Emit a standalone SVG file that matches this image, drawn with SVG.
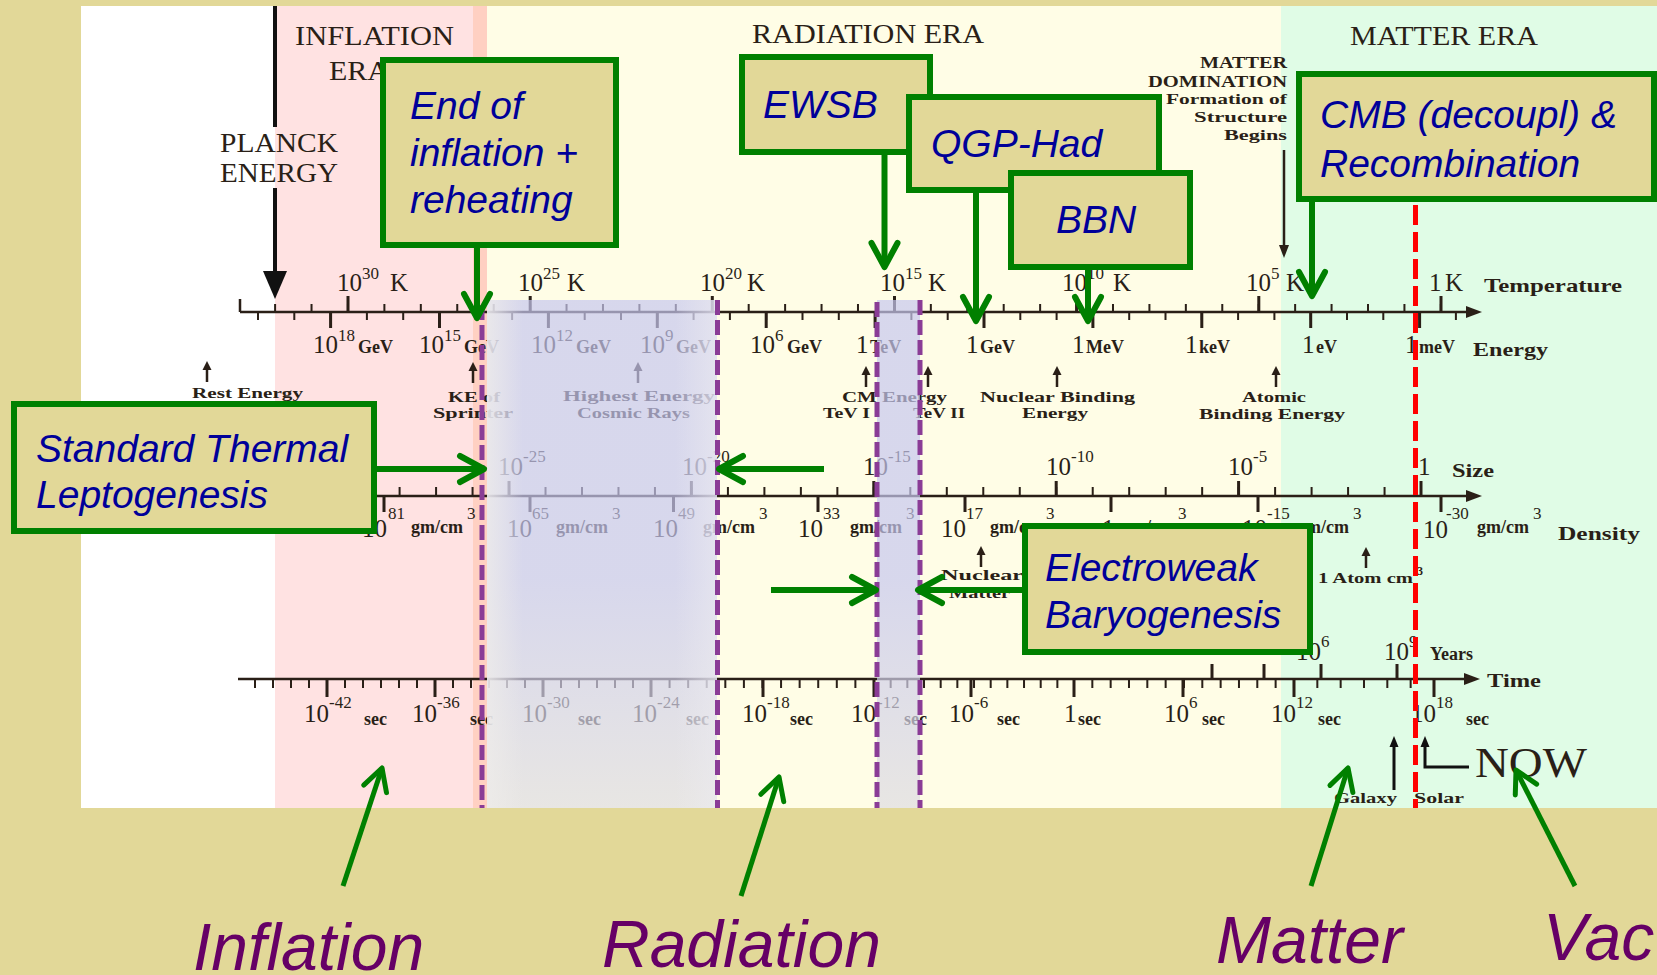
<svg xmlns="http://www.w3.org/2000/svg" width="1657" height="975" viewBox="0 0 1657 975">
<defs>
<style>
.sc{font-family:"Liberation Serif","Times New Roman",serif;fill:#2a1f17}
.m{font-size:25px}
.p{font-size:17px}
.u{font-size:18px;font-weight:bold}
.lb{font-size:19px;font-weight:bold}
.an{font-size:15px;font-weight:bold}
.era{font-size:27px}
.ax{stroke:#2a1f17;stroke-width:2.5;fill:none}
.mn{stroke:#2a1f17;fill:none}
.mj{stroke:#2a1f17;stroke-width:3;fill:none}
.ah{fill:#2a1f17}
.pd{stroke:#8A3C96;stroke-width:5;stroke-dasharray:15 5;fill:none}
.rd{stroke:#FF0000;stroke-width:5;stroke-dasharray:20 7;fill:none}
.bx{fill:#E2D898;stroke:#008000;stroke-width:6}
.bt{font-family:"Liberation Sans",Arial,sans-serif;font-style:italic;font-size:39px;fill:#000099}
.cn{stroke:#008000;stroke-width:6;fill:none;marker-end:url(#chev)}
.cn5{stroke:#008000;stroke-width:5;fill:none;marker-end:url(#chev5)}
.big{font-family:"Liberation Sans",Arial,sans-serif;font-style:italic;font-size:66px;fill:#660066}
</style>
<marker id="chev" markerUnits="userSpaceOnUse" viewBox="-30 -20 40 40" markerWidth="40" markerHeight="40" refX="0" refY="0" orient="auto" overflow="visible">
<path d="M-24,-13 L0,0 L-24,13" fill="none" stroke="#008000" stroke-width="6" stroke-linecap="round" stroke-linejoin="round"/>
</marker>
<marker id="chev5" markerUnits="userSpaceOnUse" viewBox="-30 -20 40 40" markerWidth="40" markerHeight="40" refX="0" refY="0" orient="auto" overflow="visible">
<path d="M-22,-12 L0,0 L-22,12" fill="none" stroke="#008000" stroke-width="5" stroke-linecap="round" stroke-linejoin="round"/>
</marker>
<g id="ua"><path d="M0 21V6" stroke="#2a1f17" stroke-width="2.5"/><path d="M-4.5 9L0 0L4.5 9Z" fill="#2a1f17"/></g>
<linearGradient id="lavV" x1="0" y1="0" x2="0" y2="1">
<stop offset="0" stop-color="#C6C7EF"/><stop offset="0.55" stop-color="#C6C7EF"/><stop offset="1" stop-color="#DEDCE2"/>
</linearGradient>
<linearGradient id="fadeL" x1="0" y1="0" x2="1" y2="0">
<stop offset="0" stop-color="#EEECEA" stop-opacity="0.8"/><stop offset="1" stop-color="#EEECEA" stop-opacity="0"/>
</linearGradient>
<linearGradient id="fadeR" x1="0" y1="0" x2="1" y2="0">
<stop offset="0" stop-color="#ECEBF0" stop-opacity="0"/><stop offset="1" stop-color="#ECEBF0" stop-opacity="0.6"/>
</linearGradient>
</defs>

<rect x="0" y="0" width="1657" height="975" fill="#E2D898"/>

<g id="chart">
<rect x="81" y="6" width="194" height="802" fill="#FFFFFF"/>
<rect x="275" y="6" width="198" height="802" fill="#FFE2E2"/>
<rect x="473" y="6" width="14" height="802" fill="#FFD0C2"/>
<rect x="487" y="6" width="794" height="802" fill="#FFFDE6"/>
<rect x="1281" y="6" width="376" height="802" fill="#E0FCE6"/>

<text class="sc era" x="295" y="45" textLength="159" lengthAdjust="spacingAndGlyphs">INFLATION</text>
<text class="sc era" x="329" y="80" textLength="60" lengthAdjust="spacingAndGlyphs">ERA</text>
<text class="sc era" x="752" y="43" textLength="232" lengthAdjust="spacingAndGlyphs">RADIATION ERA</text>
<text class="sc era" x="1350" y="45" textLength="188" lengthAdjust="spacingAndGlyphs">MATTER ERA</text>
<text class="sc era" x="220" y="152" textLength="118" lengthAdjust="spacingAndGlyphs">PLANCK</text>
<text class="sc era" x="220" y="182" textLength="118" lengthAdjust="spacingAndGlyphs">ENERGY</text>
<path d="M275 6V127M275 188V274" stroke="#111" stroke-width="4"/>
<path d="M263 271L287 271L275 299Z" fill="#111"/>

<text class="sc" style="font-size:16px;font-weight:bold" x="1200" y="68" textLength="87" lengthAdjust="spacingAndGlyphs">MATTER</text>
<text class="sc" style="font-size:16px;font-weight:bold" x="1148" y="87" textLength="139" lengthAdjust="spacingAndGlyphs">DOMINATION</text>
<text class="sc an" x="1166" y="104" textLength="121" lengthAdjust="spacingAndGlyphs">Formation of</text>
<text class="sc an" x="1194" y="122" textLength="93" lengthAdjust="spacingAndGlyphs">Structure</text>
<text class="sc an" x="1224" y="140" textLength="63" lengthAdjust="spacingAndGlyphs">Begins</text>
<path d="M1284 150V248" stroke="#2a1f17" stroke-width="2.5"/>
<path d="M1279 245L1289 245L1284 258Z" class="ah"/>

<path class="ax" d="M240 312H1470M240 299V312"/>
<path class="ah" d="M1466 306L1482 312L1466 318Z"/>
<line class="mn" x1="274.1" y1="308" x2="1442" y2="308" stroke-width="8" stroke-dasharray="2 34.43"/>
<path class="mj" d="M348 296V312M530.2 296V312M712.3 296V312M894.5 296V312M1076.6 296V312M1258.8 296V312M1441 296V312"/>
<line class="mn" x1="257" y1="316" x2="1458" y2="316" stroke-width="8" stroke-dasharray="2 34.3"/>
<path class="mj" d="M330.6 312V328M439.5 312V328M548.4 312V328M657.3 312V328M766.2 312V328M875.1 312V328M984 312V328M1092.9 312V328M1201.8 312V328M1310.7 312V328M1419.6 312V328"/>

<text class="sc m" y="291"><tspan x="337">10</tspan><tspan class="p" x="362" y="279">30</tspan><tspan x="390" y="291">K</tspan></text>
<text class="sc m" y="291"><tspan x="518">10</tspan><tspan class="p" x="543" y="279">25</tspan><tspan x="567" y="291">K</tspan></text>
<text class="sc m" y="291"><tspan x="700">10</tspan><tspan class="p" x="725" y="279">20</tspan><tspan x="747" y="291">K</tspan></text>
<text class="sc m" y="291"><tspan x="880">10</tspan><tspan class="p" x="905" y="279">15</tspan><tspan x="928" y="291">K</tspan></text>
<text class="sc m" y="291"><tspan x="1062">10</tspan><tspan class="p" x="1087" y="279">10</tspan><tspan x="1113" y="291">K</tspan></text>
<text class="sc m" y="291"><tspan x="1246">10</tspan><tspan class="p" x="1271" y="279">5</tspan><tspan x="1286" y="291">K</tspan></text>
<text class="sc m" y="291"><tspan x="1429">1</tspan><tspan x="1445">K</tspan></text>
<text class="sc lb" x="1484" y="292" textLength="138" lengthAdjust="spacingAndGlyphs">Temperature</text>

<text class="sc m" y="353"><tspan x="313">10</tspan><tspan class="p" x="338" y="341">18</tspan><tspan class="u" x="358" y="353">GeV</tspan></text>
<text class="sc m" y="353"><tspan x="419">10</tspan><tspan class="p" x="444" y="341">15</tspan><tspan class="u" x="464" y="353">GeV</tspan></text>
<text class="sc m" y="353"><tspan x="531">10</tspan><tspan class="p" x="556" y="341">12</tspan><tspan class="u" x="576" y="353">GeV</tspan></text>
<text class="sc m" y="353"><tspan x="640">10</tspan><tspan class="p" x="665" y="341">9</tspan><tspan class="u" x="676" y="353">GeV</tspan></text>
<text class="sc m" y="353"><tspan x="750">10</tspan><tspan class="p" x="775" y="341">6</tspan><tspan class="u" x="787" y="353">GeV</tspan></text>
<text class="sc m" y="353"><tspan x="856">1</tspan><tspan class="u" x="870">TeV</tspan></text>
<text class="sc m" y="353"><tspan x="966">1</tspan><tspan class="u" x="980">GeV</tspan></text>
<text class="sc m" y="353"><tspan x="1072">1</tspan><tspan class="u" x="1086">MeV</tspan></text>
<text class="sc m" y="353"><tspan x="1185">1</tspan><tspan class="u" x="1199">keV</tspan></text>
<text class="sc m" y="353"><tspan x="1302">1</tspan><tspan class="u" x="1316">eV</tspan></text>
<text class="sc m" y="353"><tspan x="1405">1</tspan><tspan class="u" x="1419">meV</tspan></text>
<text class="sc lb" x="1473" y="356" textLength="75" lengthAdjust="spacingAndGlyphs">Energy</text>

<use href="#ua" x="207" y="361"/>
<text class="sc an" x="192" y="398" textLength="111" lengthAdjust="spacingAndGlyphs">Rest Energy</text>
<use href="#ua" x="473" y="362"/>
<text class="sc an" x="448" y="402" textLength="52" lengthAdjust="spacingAndGlyphs">KE of</text>
<text class="sc an" x="433" y="418" textLength="80" lengthAdjust="spacingAndGlyphs">Sprinter</text>
<use href="#ua" x="638" y="362"/>
<text class="sc an" x="563" y="401" textLength="152" lengthAdjust="spacingAndGlyphs">Highest Energy</text>
<text class="sc an" x="577" y="418" textLength="113" lengthAdjust="spacingAndGlyphs">Cosmic Rays</text>
<use href="#ua" x="866" y="366"/>
<use href="#ua" x="928" y="366"/>
<text class="sc an" x="842" y="402" textLength="105" lengthAdjust="spacingAndGlyphs">CM Energy</text>
<text class="sc an" x="823" y="418" textLength="47" lengthAdjust="spacingAndGlyphs">TeV I</text>
<text class="sc an" x="913" y="418" textLength="52" lengthAdjust="spacingAndGlyphs">TeV II</text>
<use href="#ua" x="1057" y="366"/>
<text class="sc an" x="980" y="402" textLength="155" lengthAdjust="spacingAndGlyphs">Nuclear Binding</text>
<text class="sc an" x="1022" y="418" textLength="66" lengthAdjust="spacingAndGlyphs">Energy</text>
<use href="#ua" x="1276" y="366"/>
<text class="sc an" x="1242" y="402" textLength="64" lengthAdjust="spacingAndGlyphs">Atomic</text>
<text class="sc an" x="1199" y="419" textLength="146" lengthAdjust="spacingAndGlyphs">Binding Energy</text>

<path class="ax" d="M240 496H1470"/>
<path class="ah" d="M1466 490L1482 496L1466 502Z"/>
<line class="mn" x1="398.6" y1="491.5" x2="1422" y2="491.5" stroke-width="9" stroke-dasharray="2 34.48"/>
<path class="mj" d="M509 481V496M691.4 481V496M873.8 481V496M1056.2 481V496M1238.6 481V496M1421 481V496"/>
<path class="mj" d="M384 496V512M530 496V512M673.5 496V512M818 496V512M965 496V512M1111 496V512M1258 496V512M1441 496V512"/>

<text class="sc m" y="475"><tspan x="498">10</tspan><tspan class="p" x="523" y="462">-25</tspan></text>
<text class="sc m" y="475"><tspan x="682">10</tspan><tspan class="p" x="707" y="462">-20</tspan></text>
<text class="sc m" y="475"><tspan x="863">10</tspan><tspan class="p" x="888" y="462">-15</tspan></text>
<text class="sc m" y="475"><tspan x="1046">10</tspan><tspan class="p" x="1071" y="462">-10</tspan></text>
<text class="sc m" y="475"><tspan x="1228">10</tspan><tspan class="p" x="1253" y="462">-5</tspan></text>
<text class="sc m" x="1418" y="475">1</text>
<text class="sc lb" x="1452" y="477" textLength="42" lengthAdjust="spacingAndGlyphs">Size</text>

<text class="sc m" y="537"><tspan x="362">10</tspan><tspan class="p" x="388" y="519">81</tspan><tspan class="u" x="411" y="533">gm/cm</tspan><tspan class="p" x="467" y="519">3</tspan></text>
<text class="sc m" y="537"><tspan x="507">10</tspan><tspan class="p" x="532" y="519">65</tspan><tspan class="u" x="556" y="533">gm/cm</tspan><tspan class="p" x="612" y="519">3</tspan></text>
<text class="sc m" y="537"><tspan x="653">10</tspan><tspan class="p" x="678" y="519">49</tspan><tspan class="u" x="703" y="533">gm/cm</tspan><tspan class="p" x="759" y="519">3</tspan></text>
<text class="sc m" y="537"><tspan x="798">10</tspan><tspan class="p" x="823" y="519">33</tspan><tspan class="u" x="850" y="533">gm/cm</tspan><tspan class="p" x="906" y="519">3</tspan></text>
<text class="sc m" y="537"><tspan x="941">10</tspan><tspan class="p" x="966" y="519">17</tspan><tspan class="u" x="990" y="533">gm/cm</tspan><tspan class="p" x="1046" y="519">3</tspan></text>
<text class="sc m" y="537"><tspan x="1102">1</tspan><tspan class="u" x="1122" y="533">gm/cm</tspan><tspan class="p" x="1178" y="519">3</tspan></text>
<text class="sc m" y="537"><tspan x="1242">10</tspan><tspan class="p" x="1267" y="519">-15</tspan><tspan class="u" x="1297" y="533">gm/cm</tspan><tspan class="p" x="1353" y="519">3</tspan></text>
<text class="sc m" y="538"><tspan x="1423">10</tspan><tspan class="p" x="1446" y="519">-30</tspan><tspan class="u" x="1477" y="533">gm/cm</tspan><tspan class="p" x="1533" y="519">3</tspan></text>
<text class="sc lb" x="1558" y="540" textLength="82" lengthAdjust="spacingAndGlyphs">Density</text>

<use href="#ua" x="981" y="546"/>
<text class="sc an" x="941" y="580" textLength="82" lengthAdjust="spacingAndGlyphs">Nuclear</text>
<text class="sc an" x="949" y="598" textLength="61" lengthAdjust="spacingAndGlyphs">Matter</text>
<use href="#ua" x="1366" y="547"/>
<text class="sc an" y="583"><tspan x="1318" textLength="95" lengthAdjust="spacingAndGlyphs">1 Atom cm</tspan><tspan x="1413" y="575" style="font-size:12px">-3</tspan></text>

<path class="ax" d="M238 679H1470"/>
<path class="ah" d="M1464 673L1480 679L1464 685Z"/>
<line class="mn" x1="254" y1="683.5" x2="652" y2="683.5" stroke-width="9" stroke-dasharray="2 16"/>
<line class="mn" x1="650" y1="683.5" x2="875" y2="683.5" stroke-width="9" stroke-dasharray="2 16.58"/>
<line class="mn" x1="873" y1="683.5" x2="1075" y2="683.5" stroke-width="9" stroke-dasharray="2 14.67"/>
<line class="mn" x1="1073" y1="683.5" x2="1295" y2="683.5" stroke-width="9" stroke-dasharray="2 16.33"/>
<line class="mn" x1="1293" y1="683.5" x2="1435" y2="683.5" stroke-width="9" stroke-dasharray="2 21.33"/>
<path class="mj" d="M327 679V697M435 679V697M543 679V697M651 679V697M763 679V697M874 679V697M971 679V697M1074 679V697M1183 679V697M1294 679V697M1434 679V697"/>
<path class="mj" d="M1212 664V679M1264 664V679M1321 664V679M1397 664V679"/>

<text class="sc m" y="722"><tspan x="304">10</tspan><tspan class="p" x="329" y="708">-42</tspan><tspan class="u" x="364" y="725">sec</tspan></text>
<text class="sc m" y="722"><tspan x="412">10</tspan><tspan class="p" x="437" y="708">-36</tspan><tspan class="u" x="470" y="725">sec</tspan></text>
<text class="sc m" y="722"><tspan x="522">10</tspan><tspan class="p" x="547" y="708">-30</tspan><tspan class="u" x="578" y="725">sec</tspan></text>
<text class="sc m" y="722"><tspan x="632">10</tspan><tspan class="p" x="657" y="708">-24</tspan><tspan class="u" x="686" y="725">sec</tspan></text>
<text class="sc m" y="722"><tspan x="742">10</tspan><tspan class="p" x="767" y="708">-18</tspan><tspan class="u" x="790" y="725">sec</tspan></text>
<text class="sc m" y="722"><tspan x="851">10</tspan><tspan class="p" x="877" y="708">-12</tspan><tspan class="u" x="904" y="725">sec</tspan></text>
<text class="sc m" y="722"><tspan x="949">10</tspan><tspan class="p" x="974" y="708">-6</tspan><tspan class="u" x="997" y="725">sec</tspan></text>
<text class="sc m" y="722"><tspan x="1064">1</tspan><tspan class="u" x="1078" y="725">sec</tspan></text>
<text class="sc m" y="722"><tspan x="1164">10</tspan><tspan class="p" x="1189" y="708">6</tspan><tspan class="u" x="1202" y="725">sec</tspan></text>
<text class="sc m" y="722"><tspan x="1271">10</tspan><tspan class="p" x="1296" y="708">12</tspan><tspan class="u" x="1318" y="725">sec</tspan></text>
<text class="sc m" y="722"><tspan x="1411">10</tspan><tspan class="p" x="1436" y="708">18</tspan><tspan class="u" x="1466" y="725">sec</tspan></text>
<text class="sc lb" x="1487" y="687" textLength="54" lengthAdjust="spacingAndGlyphs">Time</text>
<text class="sc m" y="660"><tspan x="1296">10</tspan><tspan class="p" x="1321" y="647">6</tspan></text>
<text class="sc m" y="660"><tspan x="1384">10</tspan><tspan class="p" x="1409" y="647">9</tspan><tspan class="u" x="1430" y="660">Years</tspan></text>

<path d="M1394 790V745" stroke="#111" stroke-width="3"/>
<path d="M1389.5 747L1394 736L1398.5 747Z" fill="#111"/>
<path d="M1425 746V767H1469" stroke="#111" stroke-width="3" fill="none"/>
<path d="M1420.5 747L1425 736L1429.5 747Z" fill="#111"/>
<text class="sc" style="font-size:42px" x="1475" y="777" textLength="112" lengthAdjust="spacingAndGlyphs">NOW</text>
<text class="sc an" x="1334" y="803" textLength="63" lengthAdjust="spacingAndGlyphs">Galaxy</text>
<text class="sc an" x="1414" y="803" textLength="50" lengthAdjust="spacingAndGlyphs">Solar</text>

<rect x="487" y="300" width="230" height="508" fill="url(#lavV)" opacity="0.7"/>
<rect x="487" y="300" width="36" height="508" fill="url(#fadeL)"/>
<rect x="675" y="300" width="42" height="508" fill="url(#fadeR)"/>
<rect x="877" y="300" width="43" height="508" fill="url(#lavV)" opacity="0.7"/>

<path class="pd" d="M482 305V808M717.5 300V808M877 302V808M920 300V808"/>
<path class="rd" d="M1415.5 205V808"/>
</g>

<g id="node-end-inflation">
<rect class="bx" x="383" y="60" width="233" height="185"/>
<text class="bt"><tspan x="410" y="119">End of</tspan><tspan x="410" y="166">inflation +</tspan><tspan x="410" y="213">reheating</tspan></text>
</g>
<g id="node-ewsb">
<rect class="bx" x="742" y="57" width="188" height="95"/>
<text class="bt" x="763" y="118">EWSB</text>
</g>
<g id="node-qgp">
<rect class="bx" x="909" y="97" width="250" height="93"/>
<text class="bt" x="931" y="157">QGP-Had</text>
</g>
<g id="node-bbn">
<rect class="bx" x="1011" y="173" width="179" height="94"/>
<text class="bt" x="1056" y="233">BBN</text>
</g>
<g id="node-cmb">
<rect class="bx" x="1299" y="74" width="355" height="125"/>
<text class="bt"><tspan x="1320" y="128">CMB (decoupl) &amp;</tspan><tspan x="1320" y="177">Recombination</tspan></text>
</g>
<g id="node-leptogenesis">
<rect class="bx" x="14" y="404" width="360" height="127"/>
<text class="bt"><tspan x="36" y="462">Standard Thermal</tspan><tspan x="36" y="508">Leptogenesis</tspan></text>
</g>
<g id="node-ew-baryogenesis">
<rect class="bx" x="1025" y="526" width="285" height="126"/>
<text class="bt"><tspan x="1045" y="581">Electroweak</tspan><tspan x="1045" y="628">Baryogenesis</tspan></text>
</g>

<g id="node-inflation"><text class="big" x="193" y="970">Inflation</text></g>
<g id="node-radiation"><text class="big" x="602" y="967">Radiation</text></g>
<g id="node-matter"><text class="big" x="1216" y="963">Matter</text></g>
<g id="node-vac"><text class="big" x="1543" y="960">Vac</text></g>

<g id="connectors">
<path class="cn" d="M477 248V318"/>
<path class="cn" d="M884.5 155V267"/>
<path class="cn" d="M976 193V321"/>
<path class="cn" d="M1088 270V321"/>
<path class="cn" d="M1312 202V296"/>
<path class="cn" d="M377 469H484"/>
<path class="cn" d="M824 469H719"/>
<path class="cn" d="M1022 590H918"/>
<path class="cn" d="M771 590H876"/>
<path class="cn5" d="M343 886L382 768"/>
<path class="cn5" d="M741 896L779 777"/>
<path class="cn5" d="M1311 886L1348 768"/>
<path class="cn5" d="M1575 886L1516 770"/>
</g>
</svg>
